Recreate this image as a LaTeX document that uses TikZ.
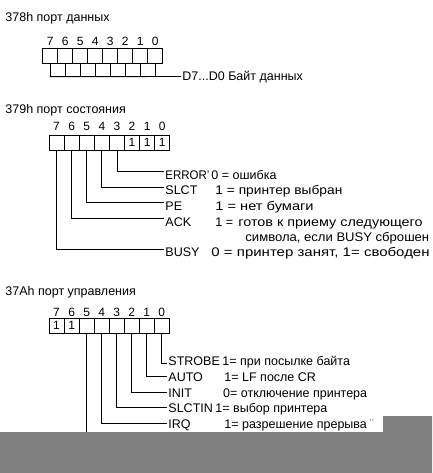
\documentclass[tikz,border=0pt]{standalone}
\usepackage{fontspec}
\setmainfont{Liberation Sans}
\usetikzlibrary{positioning}
\definecolor{bg}{HTML}{FFFFFF}
\definecolor{ink}{HTML}{000000}
\definecolor{mask}{HTML}{808080}

\begin{document}
\begin{tikzpicture}[x=1pt,y=-1pt,line width=0.9pt,line cap=rect,
  txt/.style={font=\fontsize{12.5}{14}\selectfont,text=ink,inner sep=0pt,anchor=base west},
  wd/.style={font=\fontsize{12.5}{14}\selectfont\addfontfeature{FakeStretch=#1}},
  num/.style={font=\fontsize{12}{14}\selectfont,text=ink,inner sep=0pt,anchor=base},
  bitcell/.style={draw=ink,font=\fontsize{12}{14}\selectfont,minimum width=15.1pt,minimum height=15pt,inner sep=0pt,outer sep=0pt,anchor=north west}]
  \fill[bg] (0,0) rectangle (432,473);
  \useasboundingbox (0,0) rectangle (432,473);

  % ===== 378h: data port =====
  \node[txt] (t1) at (5,22) {378h порт данных};
  \foreach \b in {0,...,7}{
    \node[bitcell] (a\b) at ({42.7+(7-\b)*15},48.3) {};
    \node[num] (na\b) at ([yshift=3pt]a\b.north) {\b};
    \draw[ink] (a\b.south) -- ++(0,13.4);
  }
  \node[txt] (dbyte) at (182,81) {D7...D0 Байт данных};
  \draw[ink] ([yshift=-13.4pt]a7.south) -- ([xshift=-1.5pt,yshift=4.5pt]dbyte.base west);

  % ===== 379h: status port =====
  \node[txt] (t2) at (5,113.5) {379h порт состояния};
  \foreach \b/\v in {0/1,1/1,2/1,3/,4/,5/,6/,7/}{
    \node[bitcell] (s\b) at ({49+(7-\b)*15.1},135) {\v};
    \node[num] (ns\b) at ([yshift=4pt]s\b.north) {\b};
  }
  \node[txt,wd=0.92] (err)  at (165,179)   {ERROR'};
  \node[txt] (slct) at (165,194.5) {SLCT};
  \node[txt] (pe)   at (165,210)   {PE};
  \node[txt] (ack)  at (165,226)   {ACK};
  \node[txt] (busy) at (165,256.5) {BUSY};
  \node[txt] (errd)  at (211,179)   {0 = ошибка};
  \node[txt,wd=1.1] (slctd) at (215,194.5) {1 = принтер выбран};
  \node[txt,wd=1.17] (ped)   at (215,210)   {1 = нет бумаги};
  \node[txt] (ackd)  at (215,226)   {1 =};
  \node[txt,wd=1.15] (ackd2) at (238,226)   {готов к приему следующего};
  \node[txt,wd=1.045] (ackd3) at (245,241)   {символа, если BUSY сброшен};
  \node[txt,wd=1.2] (busyd) at (211,256.5) {0 = принтер занят, 1= свободен};
  \draw[ink] (s3.south) |- ([xshift=-1.5pt,yshift=7.5pt]err.base west);
  \draw[ink] (s4.south) |- ([xshift=-1.5pt,yshift=7.5pt]slct.base west);
  \draw[ink] (s5.south) |- ([xshift=-1.5pt,yshift=7.5pt]pe.base west);
  \draw[ink] (s6.south) |- ([xshift=-1.5pt,yshift=7.5pt]ack.base west);
  \draw[ink] (s7.south) |- ([xshift=-1.5pt,yshift=7.5pt]busy.base west);

  % ===== 37Ah: control port =====
  \node[txt] (t3) at (5,295) {37Ah порт управления};
  \foreach \b/\v in {0/,1/,2/,3/,4/,5/,6/1,7/1}{
    \node[bitcell] (c\b) at ({49+(7-\b)*15.04},318.3) {\v};
    \node[num] (nc\b) at ([yshift=2pt]c\b.north) {\b};
  }
  \node[txt] (strobe) at (168,365.5) {STROBE};
  \node[txt] (auto)   at (168,381.5) {AUTO};
  \node[txt] (init)   at (168,397.5) {INIT};
  \node[txt] (slctin) at (168,412.5) {SLCTIN};
  \node[txt] (irq)    at (168,428.5) {IRQ};
  \node[txt] (strobed) at (222,365.5)   {1= при посылке байта};
  \node[txt] (autod)   at (224,381.5)   {1= LF после CR};
  \node[txt] (initd)   at (222.7,397.5) {0= отключение принтера};
  \node[txt] (slctind) at (215,412.5)   {1= выбор принтера};
  \node[txt] (irqd)    at (224,428.5)   {1= разрешение прерыва\,{\raisebox{6pt}{\fontsize{8}{8}\selectfont ··}}};
  \coordinate (cut) at (86.7,432);
  \draw[ink] (c0.south) |- ([xshift=-1.5pt,yshift=2.5pt]strobe.base west);
  \draw[ink] (c1.south) |- ([xshift=-1.5pt,yshift=5pt]auto.base west);
  \draw[ink] (c2.south) |- ([xshift=-1.5pt,yshift=5pt]init.base west);
  \draw[ink] (c3.south) |- ([xshift=-1.5pt,yshift=5pt]slctin.base west);
  \draw[ink] (c4.south) |- ([xshift=-1.5pt,yshift=5pt]irq.base west);
  \draw[ink] (c5.south) -- (c5.south |- cut);

  % grey strip over the bottom
  \fill[mask] (0,432) -- (383,432) -- (383,416) -- (432,416) -- (432,473) -- (0,473) -- cycle;
\end{tikzpicture}
\end{document}
